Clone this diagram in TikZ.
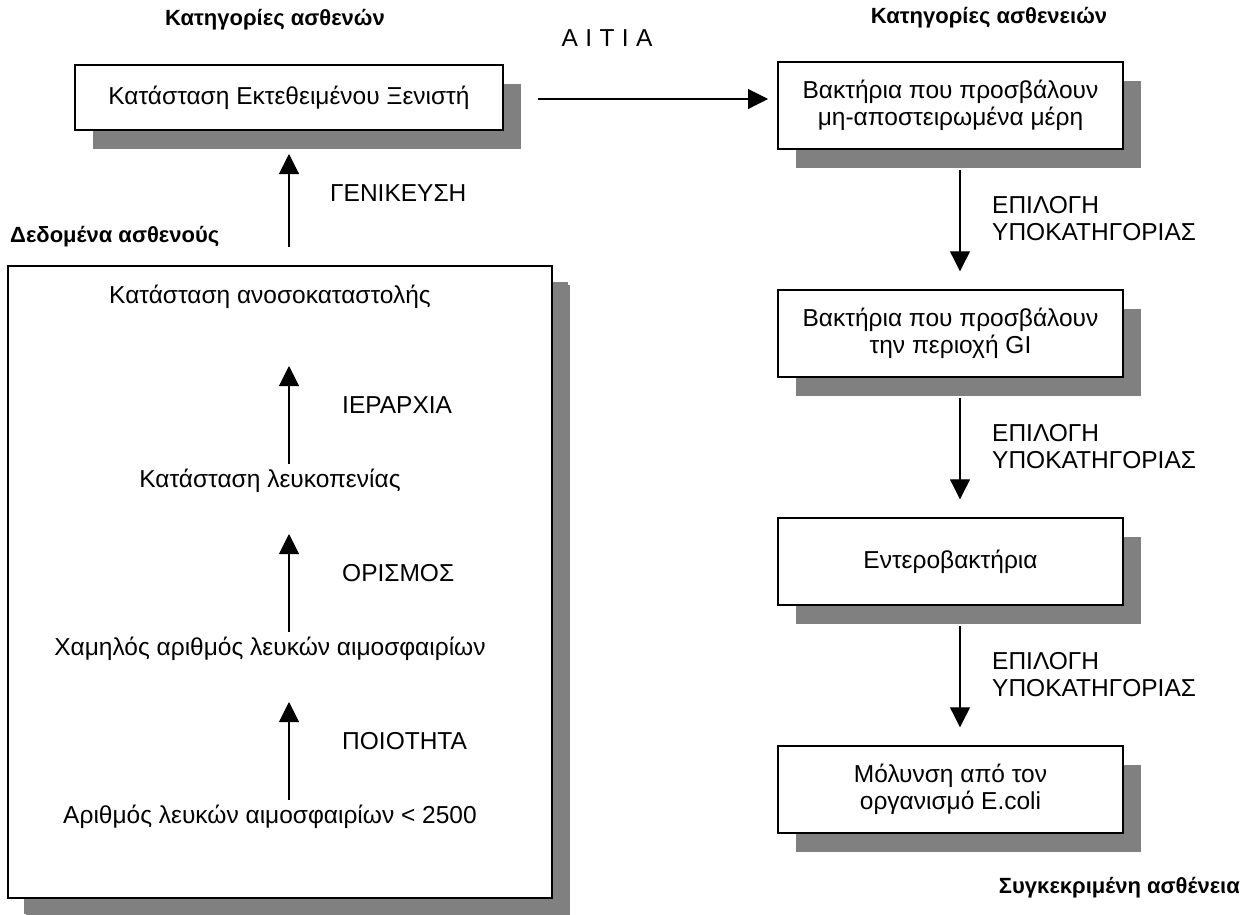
\documentclass[tikz,border=0pt]{standalone}
\usepackage{fontspec}
\setmainfont{Liberation Sans}
\usetikzlibrary{arrows.meta,shadows,calc}
\definecolor{shade}{RGB}{128,128,128}
\begin{document}
\begin{tikzpicture}[x=1pt,y=-1pt,
  txt/.style={font=\fontsize{24.5}{27}\selectfont, inner sep=0pt, align=center},
  head/.style={font=\bfseries\fontsize{22}{25}\selectfont, inner sep=0pt},
  lbl/.style={font=\fontsize{24.5}{27}\selectfont, inner sep=0pt, align=left, anchor=west},
  catbox/.style={txt, draw, line width=1.4pt, fill=white,
    drop shadow={shadow xshift=18pt, shadow yshift=-19pt, opacity=1, fill=shade}},
  rbox/.style={catbox, minimum width=345pt, minimum height=87pt},
  link/.style={line width=1.1pt, -{Triangle[length=20pt,width=20pt]}}
]
\useasboundingbox (0,0) rectangle (1245,914);

% headings
\node[head] (hL) at (275,20) {Κατηγορίες ασθενών};
\node[head] (hR) at (989,18) {Κατηγορίες ασθενειών};
\node[head, anchor=west] (hD) at (10,237) {Δεδομένα ασθενούς};
\node[head, anchor=east] (hS) at (1240,888) {Συγκεκριμένη ασθένεια};
\node[txt] (cause) at (607,38) {Α\hspace{0.3em}Ι\hspace{0.3em}Τ\hspace{0.3em}Ι\hspace{0.3em}Α};

% patient data frame
\node[catbox, minimum width=544pt, minimum height=632pt,
  drop shadow={shadow xshift=16pt, shadow yshift=-16pt, opacity=1, fill=shade}] (data) at (280,582) {};

% host state
\node[catbox, minimum width=428pt, minimum height=65pt] (host) at (289,97.5) {Κατάσταση Εκτεθειμένου Ξενιστή};

% disease categories
\node[rbox] (r1) at (950.5,105.5) {Βακτήρια που προσβάλουν\\μη-αποστειρωμένα μέρη};
\node[rbox] (r2) at (950.5,333.5) {Βακτήρια που προσβάλουν\\την περιοχή GI};
\node[rbox] (r3) at (950.5,561.5) {Εντεροβακτήρια};
\node[rbox] (r4) at (950.5,789.5) {Μόλυνση από τον\\οργανισμό E.coli};

% patient data rows
\node[txt] (t1) at (270,297) {Κατάσταση ανοσοκαταστολής};
\node[txt] (t2) at (270,481) {Κατάσταση λευκοπενίας};
\node[txt] (t3) at (270,649) {Χαμηλός αριθμός λευκών αιμοσφαιρίων};
\node[txt] (t4) at (270,817) {Αριθμός λευκών αιμοσφαιρίων < 2500};

% abstraction steps
\coordinate (a1s) at (289,464); \coordinate (a1e) at (289,366);
\coordinate (a2s) at (289,632); \coordinate (a2e) at (289,534);
\coordinate (a3s) at (289,800); \coordinate (a3e) at (289,702);
\draw[link] (a1s) -- (a1e);
\draw[link] (a2s) -- (a2e);
\draw[link] (a3s) -- (a3e);
\node[lbl] (l1) at (342,405) {ΙΕΡΑΡΧΙΑ};
\node[lbl] (l2) at (342,573) {ΟΡΙΣΜΟΣ};
\node[lbl] (l3) at (342,741) {ΠΟΙΟΤΗΤΑ};

% generalisation
\coordinate (g0) at (289,247);
\coordinate (g1) at (289,154);
\draw[link] (g0) -- (g1);
\node[lbl] (lg) at (330,193) {ΓΕΝΙΚΕΥΣΗ};

% cause
\coordinate (c0) at (538,99);
\coordinate (c1) at (768,99);
\draw[link] (c0) -- (c1);

% subcategory selection
\foreach \a/\b/\y in {r1/r2/219, r2/r3/447, r3/r4/675} {
  \coordinate (\a s) at ($(\a.south)+(9.5,20)$);
  \coordinate (\a e) at ($(\b.north)+(9.5,-18)$);
  \draw[link] (\a s) -- (\a e);
  \node[lbl] at (992,\y) {ΕΠΙΛΟΓΗ\\ΥΠΟΚΑΤΗΓΟΡΙΑΣ};
}
\end{tikzpicture}
\end{document}
